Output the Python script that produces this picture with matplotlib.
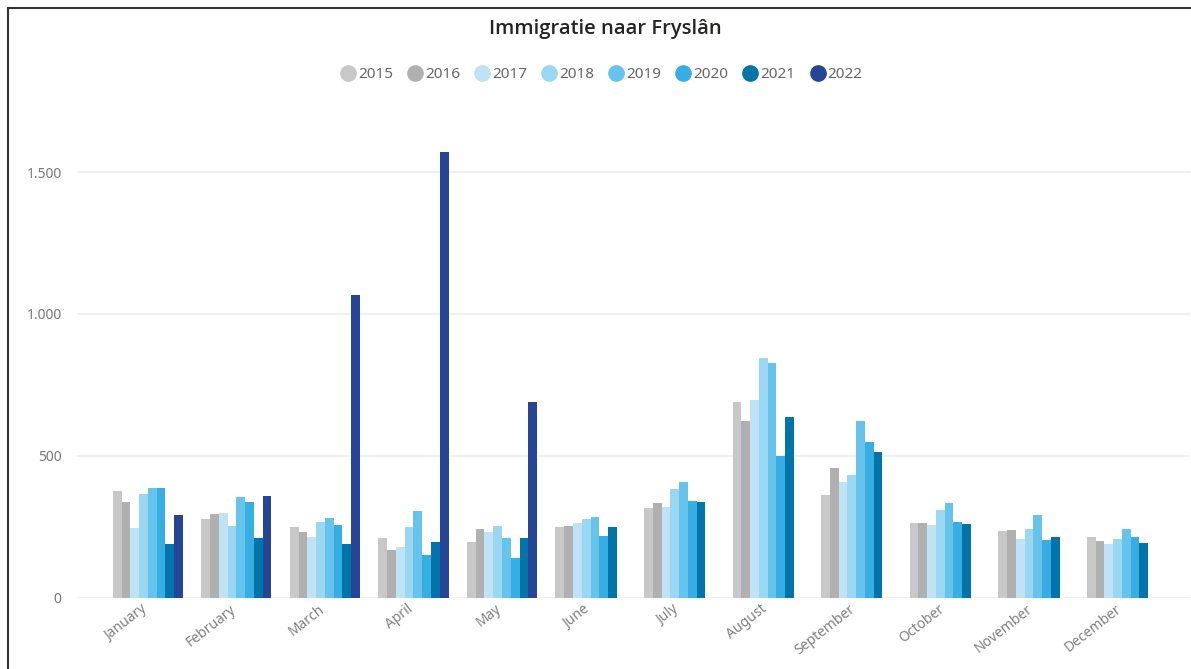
import numpy as np
import matplotlib.pyplot as plt
from matplotlib.ticker import FuncFormatter
from matplotlib.lines import Line2D
from matplotlib.transforms import ScaledTranslation

months = ["January", "February", "March", "April", "May", "June", "July",
          "August", "September", "October", "November", "December"]
years = ["2015", "2016", "2017", "2018", "2019", "2020", "2021", "2022"]
colors = ["#C8C8C8", "#B0B0B0", "#BFE2F4", "#9AD7F3", "#66C4EC", "#37AEE3", "#0174A9", "#264596"]

v2015 = [375, 278, 250, 209, 197, 250, 317, 690, 361, 262, 234, 214]
v2016 = [338, 294, 230, 167, 240, 253, 332, 622, 455, 262, 237, 200]
v2017 = [246, 299, 214, 179, 230, 264, 320, 696, 408, 256, 206, 187]
v2018 = [365, 252, 265, 250, 253, 277, 381, 843, 432, 309, 243, 207]
v2019 = [385, 355, 279, 305, 209, 283, 408, 826, 623, 332, 291, 241]
v2020 = [385, 338, 254, 150, 140, 217, 341, 500, 549, 267, 202, 214]
v2021 = [187, 209, 187, 195, 209, 250, 336, 635, 512, 259, 213, 193]
v2022 = [291, 358, 1067, 1570, 690, None, None, None, None, None, None, None]
series = [v2015, v2016, v2017, v2018, v2019, v2020, v2021, v2022]

plt.rcParams['font.family'] = ['Noto Sans', 'DejaVu Sans']

fig = plt.figure(figsize=(11.91, 6.69), dpi=100)
ax = fig.add_axes([77 / 1191, 71.5 / 669, (1190 - 77) / 1191, 0.7206])

x = np.arange(len(months))
w = 0.099
for i, (yr, vals) in enumerate(zip(years, series)):
    vals = [np.nan if v is None else v for v in vals]
    ax.bar(x + (i - 3.5) * w, vals, width=w, color=colors[i], label=yr, zorder=3)

ax.set_xlim(-0.80, 11.77)
ax.set_ylim(0, 1700)
ax.set_yticks([0, 500, 1000, 1500])
ax.yaxis.set_major_formatter(FuncFormatter(lambda v, p: f"{int(v):,}".replace(",", ".")))
ax.grid(axis="y", color="#EDEDED", linewidth=1.2, zorder=0)
for s in ax.spines.values():
    s.set_visible(False)
ax.tick_params(axis="y", length=0, pad=11, labelsize=10, labelcolor="#777777")
ax.tick_params(axis="x", length=0, pad=2, labelsize=10, labelcolor="#808080")
ax.set_xticks(x)
ax.set_xticklabels(months, rotation=38, ha="right", rotation_mode="anchor")
offset = ScaledTranslation(-5 / 72, -1 / 72, fig.dpi_scale_trans)
for lbl in ax.get_xticklabels():
    lbl.set_transform(lbl.get_transform() + offset)

fig.text(0.508, 0.957, "Immigratie naar Fryslân", ha="center", va="center",
         fontsize=14.5, fontweight="semibold", color="#252423",
         family=["Open Sans", "DejaVu Sans"])

handles = [Line2D([], [], marker="o", linestyle="", markersize=11,
                  markerfacecolor=c, markeredgecolor=c) for c in colors]
fig.legend(handles, years, loc="center", bbox_to_anchor=(0.504, 0.888), ncol=8,
           frameon=False, handletextpad=0.0, columnspacing=0.8, handlelength=1.3,
           fontsize=11, labelcolor="#666666")

# frame on left and top edges
fig.add_artist(Line2D([8 / 1191, 8 / 1191], [0, 1 - 8 / 669], color="#333333", lw=1.5))
fig.add_artist(Line2D([8 / 1191, 1], [1 - 8 / 669, 1 - 8 / 669], color="#333333", lw=1.5))

fig.savefig("out.png", dpi=100)
